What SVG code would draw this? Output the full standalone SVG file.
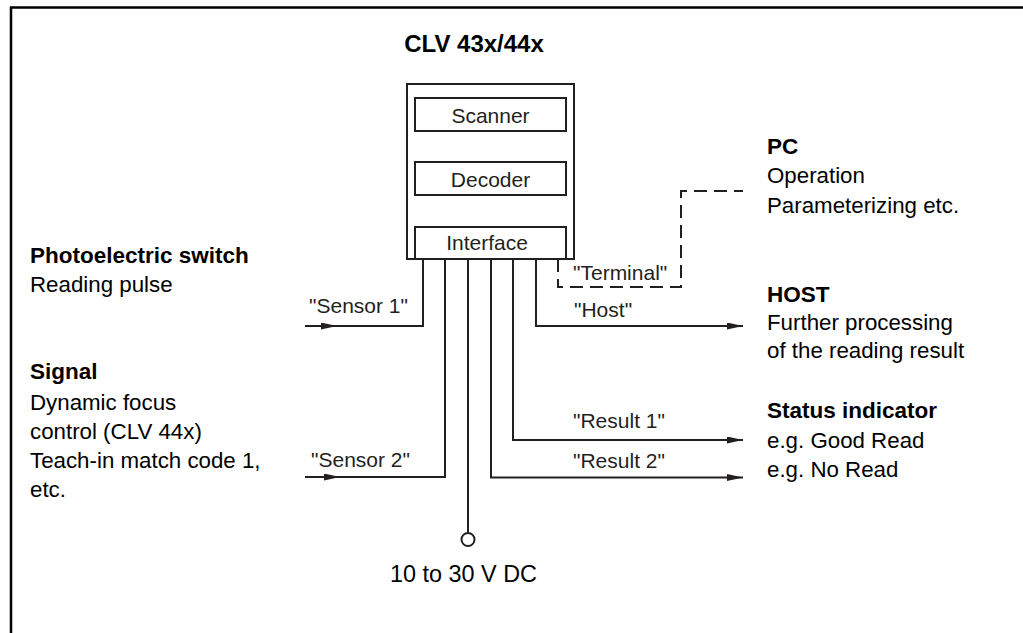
<svg xmlns="http://www.w3.org/2000/svg" width="1023" height="633" viewBox="0 0 1023 633">
<defs>
<marker id="arr" markerUnits="userSpaceOnUse" markerWidth="17" markerHeight="8" refX="16" refY="3.5" orient="auto">
<path d="M0,0 L16,3.5 L0,7 z" fill="#231f20"/>
</marker>
<style>
.ln{fill:none;stroke:#231f20;stroke-width:2}
.bx{fill:#fff;stroke:#231f20;stroke-width:2}
.dash{fill:none;stroke:#231f20;stroke-width:2;stroke-dasharray:13 7}
.lb{font-family:"Liberation Sans",Arial,sans-serif;font-size:21px;fill:#231f20}
.hd{font-family:"Liberation Sans",Arial,sans-serif;font-size:22.5px;font-weight:bold;fill:#000}
.tx{font-family:"Liberation Sans",Arial,sans-serif;font-size:22.3px;fill:#000}
.ti{font-family:"Liberation Sans",Arial,sans-serif;font-size:24px;font-weight:bold;fill:#000}
</style>
</defs>
<rect width="1023" height="633" fill="#fff"/>
<g id="frame">
<path d="M11,633 L11,7.5 L1023,7.5" fill="none" stroke="#000" stroke-width="2.5"/>
</g>
<g id="connectors">
<path class="ln" d="M305,326 L337,326" marker-end="url(#arr)"/>
<path class="ln" d="M335,326 L423,326 L423,259"/>
<path class="ln" d="M305,477 L340,477" marker-end="url(#arr)"/>
<path class="ln" d="M338,477 L445,477 L445,259"/>
<path class="ln" d="M468,259 L468,532.5"/>
<circle cx="468" cy="539.5" r="6.5" fill="#fff" stroke="#231f20" stroke-width="2"/>
<path class="ln" d="M491,259 L491,477.5 L743,477.5" marker-end="url(#arr)"/>
<path class="ln" d="M513,259 L513,440 L743,440" marker-end="url(#arr)"/>
<path class="ln" d="M536,259 L536,326 L743,326" marker-end="url(#arr)"/>
<path class="dash" d="M558,259 L558,287 L681,287 L681,191 L743,191"/>
<text class="lb" x="309" y="313">"Sensor 1"</text>
<text class="lb" x="311" y="467">"Sensor 2"</text>
<text class="lb" x="573" y="280">"Terminal"</text>
<text class="lb" x="574" y="317">"Host"</text>
<text class="lb" x="573" y="428">"Result 1"</text>
<text class="lb" x="573" y="468">"Result 2"</text>
<text class="tx" x="463.5" y="582" text-anchor="middle" style="font-size:23.4px">10 to 30 V DC</text>
</g>
<g id="clv">
<text class="ti" x="474" y="52" text-anchor="middle">CLV 43x/44x</text>
<rect class="bx" x="407" y="84" width="167" height="175"/>
<g id="scanner">
<rect class="bx" x="415" y="98" width="151" height="33"/>
<text class="lb" x="490.5" y="123" text-anchor="middle">Scanner</text>
</g>
<g id="decoder">
<rect class="bx" x="415" y="162" width="151" height="33"/>
<text class="lb" x="490.5" y="187" text-anchor="middle">Decoder</text>
</g>
<g id="interface">
<rect class="bx" x="415" y="227" width="151" height="32"/>
<text class="lb" x="487" y="250" text-anchor="middle">Interface</text>
</g>
</g>
<g id="photoelectric">
<text class="hd" x="30" y="263">Photoelectric switch</text>
<text class="tx" x="30" y="292">Reading pulse</text>
</g>
<g id="signal">
<text class="hd" x="30" y="379">Signal</text>
<text class="tx" x="30" y="410">Dynamic focus</text>
<text class="tx" x="30" y="439">control (CLV 44x)</text>
<text class="tx" x="30" y="468">Teach-in match code 1,</text>
<text class="tx" x="30" y="497">etc.</text>
</g>
<g id="pc">
<text class="hd" x="767" y="154">PC</text>
<text class="tx" x="767" y="183">Operation</text>
<text class="tx" x="767" y="213">Parameterizing etc.</text>
</g>
<g id="host">
<text class="hd" x="767" y="302">HOST</text>
<text class="tx" x="767" y="330">Further processing</text>
<text class="tx" x="767" y="358">of the reading result</text>
</g>
<g id="status">
<text class="hd" x="767" y="418">Status indicator</text>
<text class="tx" x="767" y="448">e.g. Good Read</text>
<text class="tx" x="767" y="477">e.g. No Read</text>
</g>
</svg>
